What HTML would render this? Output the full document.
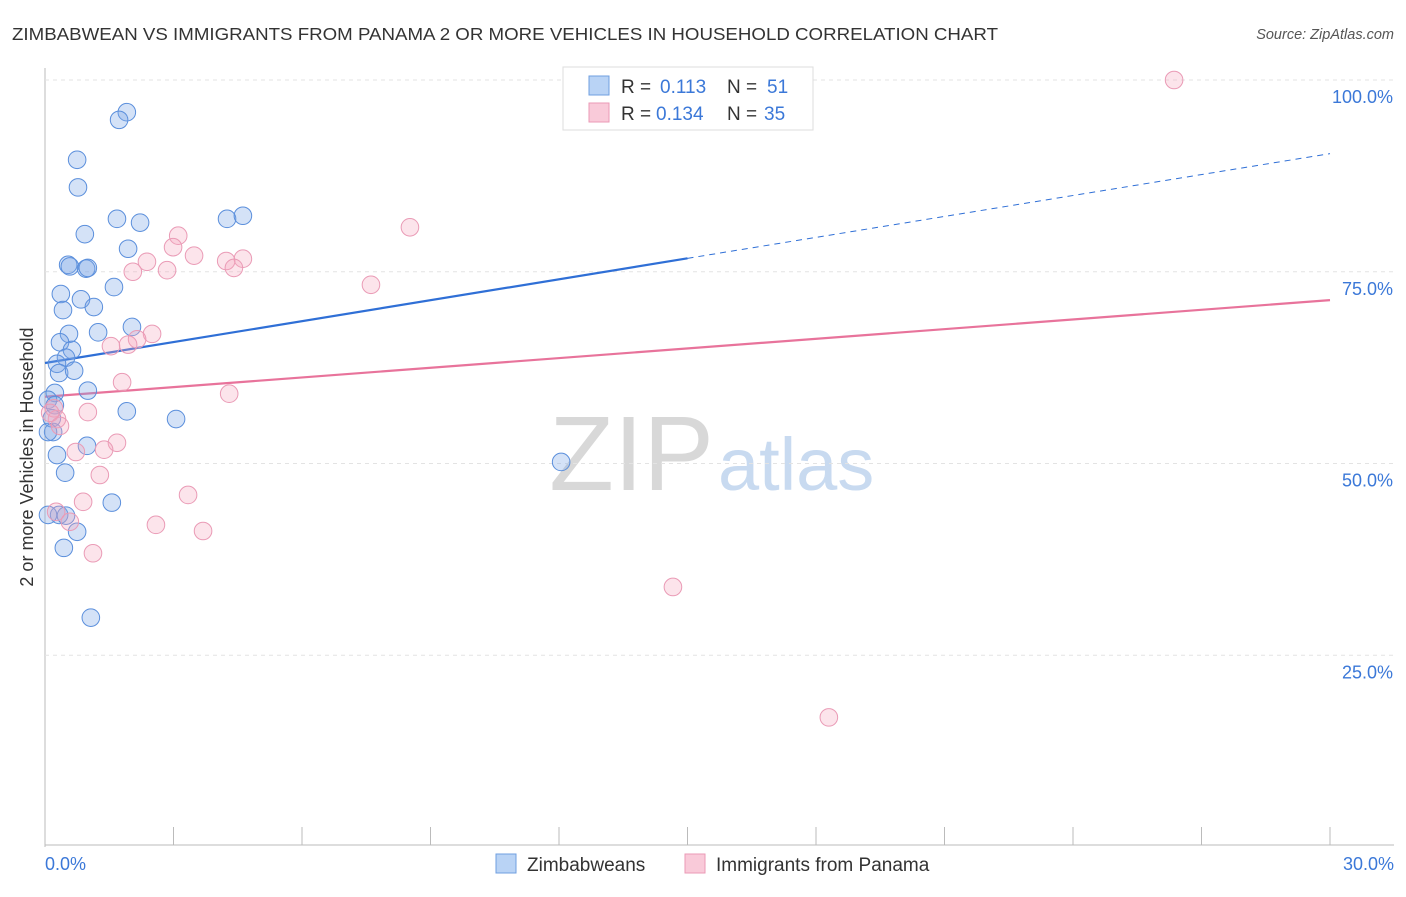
<!DOCTYPE html>
<html><head><meta charset="utf-8"><style>
body{margin:0;background:#fff;font-family:"Liberation Sans",sans-serif}
svg text{font-family:"Liberation Sans",sans-serif}
</style></head><body>
<svg id="c" width="1406" height="892">
<text x="12" y="40" font-size="17.5" fill="#333" textLength="986" lengthAdjust="spacingAndGlyphs">ZIMBABWEAN VS IMMIGRANTS FROM PANAMA 2 OR MORE VEHICLES IN HOUSEHOLD CORRELATION CHART</text>
<text x="1394" y="39" font-size="14.5" fill="#555" font-style="italic" text-anchor="end">Source: ZipAtlas.com</text>
<text x="714" y="490" font-size="106" fill="#d8d8d8" text-anchor="end" font-family="Liberation Serif">ZIP</text>
<text x="718" y="490" font-size="74" fill="#c8daf0">atlas</text>
<text transform="translate(33,457) rotate(-90)" font-size="18" fill="#333" text-anchor="middle">2 or more Vehicles in Household</text>
<g id="grid"></g><g id="ticks"></g><g id="lines"></g><g id="pts"></g>
<g>
<rect x="563" y="67" width="250" height="63" fill="#fff" stroke="#ddd"/>
<rect x="589" y="76" width="20" height="19" fill="#b9d3f5" stroke="#6f9fe0"/>
<rect x="589" y="103" width="20" height="19" fill="#f9cad9" stroke="#eb9ab6"/>
<text x="621" y="93" font-size="19" fill="#333">R =</text>
<text x="660" y="93" font-size="19" fill="#3b78d8">0.113</text>
<text x="727" y="93" font-size="19" fill="#333">N =</text>
<text x="767" y="93" font-size="19" fill="#3b78d8">51</text>
<text x="621" y="120" font-size="19" fill="#333">R =</text>
<text x="656" y="120" font-size="19" fill="#3b78d8">0.134</text>
<text x="727" y="120" font-size="19" fill="#333">N =</text>
<text x="764" y="120" font-size="19" fill="#3b78d8">35</text>
</g>
<g>
<rect x="496" y="854" width="20" height="19" fill="#b9d3f5" stroke="#6f9fe0"/>
<text x="527" y="871" font-size="19" fill="#333">Zimbabweans</text>
<rect x="685" y="854" width="20" height="19" fill="#f9cad9" stroke="#eb9ab6"/>
<text x="716" y="871" font-size="19" fill="#333">Immigrants from Panama</text>
</g>
</svg>
<script>
const blueX=[1.91,1.73,0.75,0.77,1.68,2.22,4.25,4.62,0.93,1.94,0.54,0.58,0.96,1.00,1.61,0.37,0.84,1.14,0.42,0.56,1.24,2.03,0.35,0.63,0.49,0.28,0.33,0.68,0.23,1.00,0.07,0.23,1.91,3.06,0.16,0.19,0.07,0.98,0.28,0.47,1.56,0.33,0.49,0.07,0.75,0.44,1.07,12.05];
const blueY=[95.8,94.8,89.6,86.0,81.9,81.4,81.9,82.3,79.9,78.0,75.9,75.7,75.4,75.5,73.0,72.1,71.4,70.4,70.0,66.9,67.1,67.8,65.8,64.8,63.8,63.0,61.8,62.1,59.2,59.5,58.3,57.6,56.8,55.8,55.9,54.1,54.1,52.3,51.1,48.8,44.9,43.3,43.2,43.3,41.1,39.0,29.9,50.2];
const pinkX=[26.36,8.52,3.11,2.99,2.38,2.05,2.85,3.48,4.23,4.62,4.41,7.61,2.50,2.15,1.54,1.94,1.80,4.30,0.21,0.28,1.00,0.12,0.35,1.68,0.72,1.38,1.28,3.34,0.89,0.26,0.58,2.59,3.69,1.12,14.66,18.30];
const pinkY=[100.0,80.8,79.7,78.2,76.3,75.0,75.2,77.1,76.4,76.7,75.5,73.3,66.9,66.2,65.3,65.5,60.6,59.1,57.2,55.8,56.7,56.6,54.9,52.7,51.5,51.8,48.5,45.9,45.0,43.7,42.4,42.0,41.2,38.3,33.9,16.9];
const blueTrend=[63.1,90.4];
const pinkTrend=[58.7,71.3];
const blueSolidEnd=15;
const yTicks=[25,50,75,100];
const yTickLabels=["25.0%","50.0%","75.0%","100.0%"];
const xTicks=[0,3,6,9,12,15,18,21,24,27,30];
const NS="http://www.w3.org/2000/svg";
const X0=45,X1=1330,Y0=847,Y100=80;
const sx=v=>X0+(v/30)*(X1-X0);
const sy=v=>Y0-(v/100)*(Y0-Y100);
function mk(tag,attrs,parent){const e=document.createElementNS(NS,tag);for(const k in attrs)e.setAttribute(k,attrs[k]);document.getElementById(parent).appendChild(e);return e;}
const ax=mk('line',{x1:X0,y1:68,x2:X0,y2:847,stroke:'#bbb'},'grid');


const bx=mk('line',{x1:X0,y1:845,x2:1394,y2:845,stroke:'#bbb'},'grid');


yTicks.forEach((t,i)=>{
 const g=mk('line',{x1:X0,y1:sy(t),x2:1394,y2:sy(t),stroke:'#e3e3e3','stroke-dasharray':'4,4'},'grid');
 
 
 const l=mk('text',{x:1393,y:sy(t)+23,'font-size':18,fill:'#3b78d8','text-anchor':'end'},'ticks');
 l.textContent=yTickLabels[i];
 
 
});
xTicks.forEach(t=>{
 const k=mk('line',{x1:sx(t),y1:827,x2:sx(t),y2:845,stroke:'#bbb'},'ticks');
 
 
});
const xl0=mk('text',{x:45,y:870,'font-size':18,fill:'#3b78d8'},'ticks');xl0.textContent='0.0%';


const xl1=mk('text',{x:1394,y:870,'font-size':18,fill:'#3b78d8','text-anchor':'end'},'ticks');xl1.textContent='30.0%';


const tb=x=>blueTrend[0]+(blueTrend[1]-blueTrend[0])*x/30;
const tp=x=>pinkTrend[0]+(pinkTrend[1]-pinkTrend[0])*x/30;
const l1=mk('line',{x1:sx(0),y1:sy(tb(0)),x2:sx(blueSolidEnd),y2:sy(tb(blueSolidEnd)),stroke:'#2f6fd6','stroke-width':2.2},'lines');


const l2=mk('line',{x1:sx(blueSolidEnd),y1:sy(tb(blueSolidEnd)),x2:sx(30),y2:sy(tb(30)),stroke:'#2f6fd6','stroke-width':1,'stroke-dasharray':'6,5'},'lines');


const l3=mk('line',{x1:sx(0),y1:sy(tp(0)),x2:sx(30),y2:sy(tp(30)),stroke:'#e8739b','stroke-width':2.2},'lines');


blueX.forEach((x,i)=>{
 const c=mk('circle',{cx:sx(x),cy:sy(blueY[i]),r:8.8,fill:'rgba(120,165,230,0.32)',stroke:'#5b8fdc','stroke-width':1},'pts');
 
 
});
pinkX.forEach((x,i)=>{
 const c=mk('circle',{cx:sx(x),cy:sy(pinkY[i]),r:8.8,fill:'rgba(245,165,190,0.3)',stroke:'#ea9bb6','stroke-width':1},'pts');
 
 
});
</script>
</body></html>
